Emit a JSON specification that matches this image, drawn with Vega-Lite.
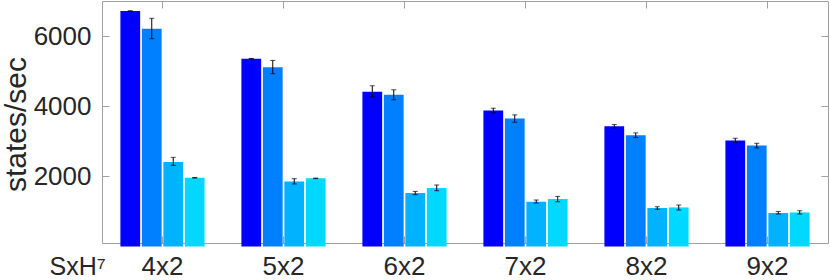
{
  "$schema": "https://vega.github.io/schema/vega-lite/v6.json",
  "autosize": {"type": "none"},
  "padding": {"left": 102, "top": 1, "right": 2, "bottom": 37},
  "width": 726,
  "height": 242,
  "background": "white",
  "config": {
    "view": {"stroke": "#a0a0a0", "strokeWidth": 1},
    "font": "Liberation Sans",
    "axis": {"grid": false, "domainColor": "#a0a0a0", "tickColor": "#a0a0a0", "labelColor": "#262626", "titleColor": "#262626", "labelFont": "Liberation Sans", "titleFont": "Liberation Sans", "titleFontWeight": "normal"}
  },
  "data": {"values": [
    {"g": "4x2", "s": "1", "v": 6714, "lo": 6706, "hi": 6722},
    {"g": "4x2", "s": "2", "v": 6211, "lo": 5924, "hi": 6506},
    {"g": "4x2", "s": "3", "v": 2411, "lo": 2314, "hi": 2543},
    {"g": "4x2", "s": "4", "v": 1960, "lo": 1952, "hi": 1968},
    {"g": "5x2", "s": "1", "v": 5354, "lo": 5346, "hi": 5362},
    {"g": "5x2", "s": "2", "v": 5114, "lo": 4926, "hi": 5306},
    {"g": "5x2", "s": "3", "v": 1857, "lo": 1783, "hi": 1934},
    {"g": "5x2", "s": "4", "v": 1943, "lo": 1935, "hi": 1951},
    {"g": "6x2", "s": "1", "v": 4411, "lo": 4269, "hi": 4583},
    {"g": "6x2", "s": "2", "v": 4326, "lo": 4183, "hi": 4469},
    {"g": "6x2", "s": "3", "v": 1526, "lo": 1477, "hi": 1571},
    {"g": "6x2", "s": "4", "v": 1669, "lo": 1591, "hi": 1754},
    {"g": "7x2", "s": "1", "v": 3877, "lo": 3810, "hi": 3943},
    {"g": "7x2", "s": "2", "v": 3649, "lo": 3543, "hi": 3754},
    {"g": "7x2", "s": "3", "v": 1277, "lo": 1240, "hi": 1326},
    {"g": "7x2", "s": "4", "v": 1354, "lo": 1277, "hi": 1429},
    {"g": "8x2", "s": "1", "v": 3429, "lo": 3383, "hi": 3477},
    {"g": "8x2", "s": "2", "v": 3171, "lo": 3106, "hi": 3240},
    {"g": "8x2", "s": "3", "v": 1097, "lo": 1060, "hi": 1134},
    {"g": "8x2", "s": "4", "v": 1114, "lo": 1040, "hi": 1183},
    {"g": "9x2", "s": "1", "v": 3020, "lo": 2963, "hi": 3086},
    {"g": "9x2", "s": "2", "v": 2877, "lo": 2811, "hi": 2943},
    {"g": "9x2", "s": "3", "v": 954, "lo": 926, "hi": 1000},
    {"g": "9x2", "s": "4", "v": 971, "lo": 926, "hi": 1020}
  ]},
  "encoding": {
    "x": {"field": "g", "type": "nominal", "sort": null, "scale": {"paddingInner": 0.29, "paddingOuter": 0.145}},
    "xOffset": {"field": "s", "type": "nominal", "scale": {"paddingInner": 0.08, "paddingOuter": 0.04}}
  },
  "layer": [
    {
      "mark": {"type": "bar"},
      "encoding": {
        "x": {"field": "g", "type": "nominal", "sort": null, "axis": {"orient": "bottom", "title": "SxH⁷", "titleX": -53, "titleY": 31, "titleAlign": "left", "titleBaseline": "alphabetic", "titleAngle": 0, "titleFontSize": 25, "labelFontSize": 26, "labelAngle": 0, "labelBaseline": "alphabetic", "tickSize": -7, "labelPadding": 38, "domain": true}},
        "y": {"field": "v", "type": "quantitative", "scale": {"domain": [100, 7000], "nice": false, "zero": false}, "axis": {"orient": "left", "values": [2000, 4000, 6000], "format": "d", "title": "states/sec", "titleFontSize": 30, "titleAngle": -90, "titleX": -77, "titleY": 123, "titleAlign": "center", "titleBaseline": "alphabetic", "labelFontSize": 26, "tickSize": -7, "labelPadding": 18, "domain": true}},
        "color": {"field": "s", "type": "nominal", "legend": null, "scale": {"domain": ["1", "2", "3", "4"], "range": ["#0000ff", "#0080ff", "#00b2ff", "#00d8ff"]}}
      }
    },
    {
      "mark": {"type": "rule", "color": "#000000", "strokeWidth": 1},
      "encoding": {
        "x": {"field": "g", "type": "nominal", "sort": null, "axis": {"orient": "top", "labels": false, "title": null, "tickSize": -7, "domain": false}},
        "y": {"field": "lo", "type": "quantitative", "axis": {"orient": "right", "values": [2000, 4000, 6000], "labels": false, "title": null, "tickSize": -7, "domain": false}},
        "y2": {"field": "hi"}
      }
    },
    {
      "mark": {"type": "tick", "color": "#000000", "thickness": 1, "size": 5},
      "encoding": {
        "x": {"field": "g", "type": "nominal", "sort": null, "axis": null},
        "y": {"field": "lo", "type": "quantitative", "axis": null}
      }
    },
    {
      "mark": {"type": "tick", "color": "#000000", "thickness": 1, "size": 5},
      "encoding": {
        "x": {"field": "g", "type": "nominal", "sort": null, "axis": null},
        "y": {"field": "hi", "type": "quantitative", "axis": null}
      }
    }
  ],
  "resolve": {"axis": {"x": "independent", "y": "independent"}}
}
